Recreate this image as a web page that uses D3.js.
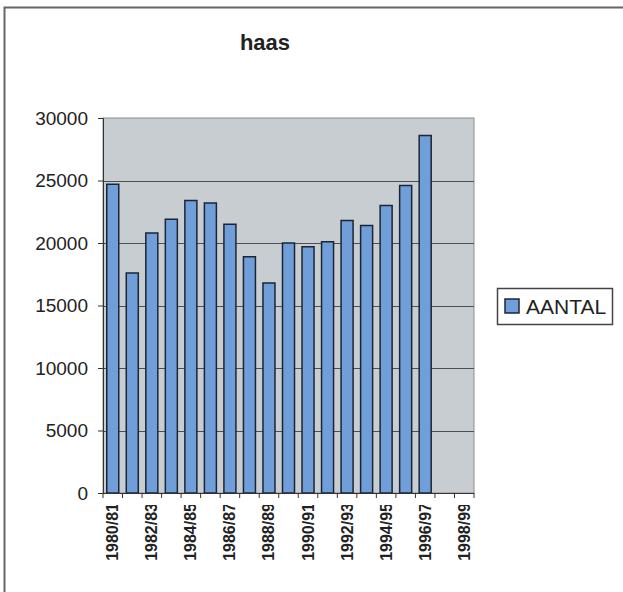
<!DOCTYPE html>
<html>
<head>
<meta charset="utf-8">
<script src="https://cdn.jsdelivr.net/npm/d3@7.9.0/dist/d3.min.js"></script>
<style>
  body { margin: 0; background: #fff; }
  svg { display: block; font-family: "Liberation Sans", Arial, sans-serif; }
</style>
</head>
<body>
<svg width="623" height="592"></svg>
<script>
// seasons (categories) and hare counts
const seasons = ['1980/81', '1981/82', '1982/83', '1983/84', '1984/85', '1985/86', '1986/87',
  '1987/88', '1988/89', '1989/90', '1990/91', '1991/92', '1992/93', '1993/94', '1994/95',
  '1995/96', '1996/97', '1997/98', '1998/99'];
const aantal = [24700, 17600, 20800, 21900, 23400, 23200, 21500, 18900, 16800, 20000,
  19700, 20100, 21800, 21400, 23000, 24600, 28600, null, null];
const yTicks = [0, 5000, 10000, 15000, 20000, 25000, 30000];
const xTickLabels = ['1980/81', '1982/83', '1984/85', '1986/87', '1988/89', '1990/91',
  '1992/93', '1994/95', '1996/97', '1998/99'];

const svg = d3.select('svg');
const plot = { left: 103, right: 474, top: 118, bottom: 493 };

// outer chart frame (scan shows only left and top edges)
svg.append('path')
  .attr('d', 'M4.5,592 V7.5 H623')
  .attr('fill', 'none')
  .attr('stroke', '#666')
  .attr('stroke-width', 2);

svg.append('text')
  .attr('x', 265).attr('y', 50)
  .attr('text-anchor', 'middle')
  .attr('font-size', 22).attr('font-weight', 'bold')
  .attr('fill', '#222')
  .text('haas');

const x = d3.scaleBand()
  .domain(seasons)
  .range([plot.left, plot.right])
  .paddingInner(0.385)
  .paddingOuter(0.1925);

const y = d3.scaleLinear()
  .domain([0, 30000])
  .range([plot.bottom, plot.top]);

// plot background
svg.append('rect')
  .attr('x', plot.left).attr('y', plot.top)
  .attr('width', plot.right - plot.left).attr('height', plot.bottom - plot.top)
  .attr('fill', '#c8cdd1')
  .attr('stroke', '#8a8d90');

// gridlines
svg.append('g')
  .selectAll('line')
  .data(yTicks.filter(d => d > 0 && d < 30000))
  .join('line')
  .attr('x1', plot.left).attr('x2', plot.right)
  .attr('y1', d => Math.round(y(d)) + 0.5).attr('y2', d => Math.round(y(d)) + 0.5)
  .attr('stroke', '#4d4f52');

// bars
svg.append('g')
  .selectAll('rect')
  .data(seasons.map((s, i) => ({ season: s, value: aantal[i] })).filter(d => d.value != null))
  .join('rect')
  .attr('x', d => x(d.season))
  .attr('y', d => y(d.value))
  .attr('width', x.bandwidth())
  .attr('height', d => y(0) - y(d.value))
  .attr('fill', '#6f9ed9')
  .attr('stroke', '#1c2535')
  .attr('stroke-width', 1.5);

// y axis
const yAxis = svg.append('g')
  .attr('transform', `translate(${plot.left},0)`)
  .call(d3.axisLeft(y).tickValues(yTicks).tickSize(5).tickPadding(10).tickFormat(d3.format('d')));
yAxis.select('.domain').attr('stroke', '#333');
yAxis.selectAll('.tick line').attr('stroke', '#333');
yAxis.selectAll('text').attr('font-size', 19).attr('fill', '#222');

// x axis: ticks on category boundaries
const step = x.step();
const boundaries = d3.range(seasons.length + 1).map(i => plot.left + i * step);
svg.append('line')
  .attr('x1', plot.left).attr('x2', plot.right)
  .attr('y1', plot.bottom + 0.5).attr('y2', plot.bottom + 0.5)
  .attr('stroke', '#333');
svg.append('g')
  .selectAll('line')
  .data(boundaries)
  .join('line')
  .attr('x1', d => d).attr('x2', d => d)
  .attr('y1', plot.bottom).attr('y2', plot.bottom + 5)
  .attr('stroke', '#333');

// rotated category labels, clipped at the top as in the scan
svg.append('clipPath').attr('id', 'lblclip')
  .append('rect').attr('x', 0).attr('y', 505).attr('width', 623).attr('height', 87);

svg.append('g')
  .attr('clip-path', 'url(#lblclip)')
  .selectAll('text')
  .data(xTickLabels)
  .join('text')
  .attr('transform', d => `translate(${x(d) + x.bandwidth() / 2 + 5.5},503) rotate(-90)`)
  .attr('text-anchor', 'end')
  .attr('font-size', 16).attr('font-weight', 'bold')
  .attr('fill', '#222')
  .text(d => d);

// legend
const legend = svg.append('g');
legend.append('rect')
  .attr('x', 497.5).attr('y', 288.5).attr('width', 115).attr('height', 36)
  .attr('fill', '#fff').attr('stroke', '#444').attr('stroke-width', 1.5);
legend.append('rect')
  .attr('x', 505).attr('y', 299).attr('width', 14).attr('height', 14)
  .attr('fill', '#6f9ed9').attr('stroke', '#1c2535').attr('stroke-width', 1.5);
legend.append('text')
  .attr('x', 526).attr('y', 314)
  .attr('font-size', 21).attr('fill', '#222')
  .text('AANTAL');
</script>
</body>
</html>
